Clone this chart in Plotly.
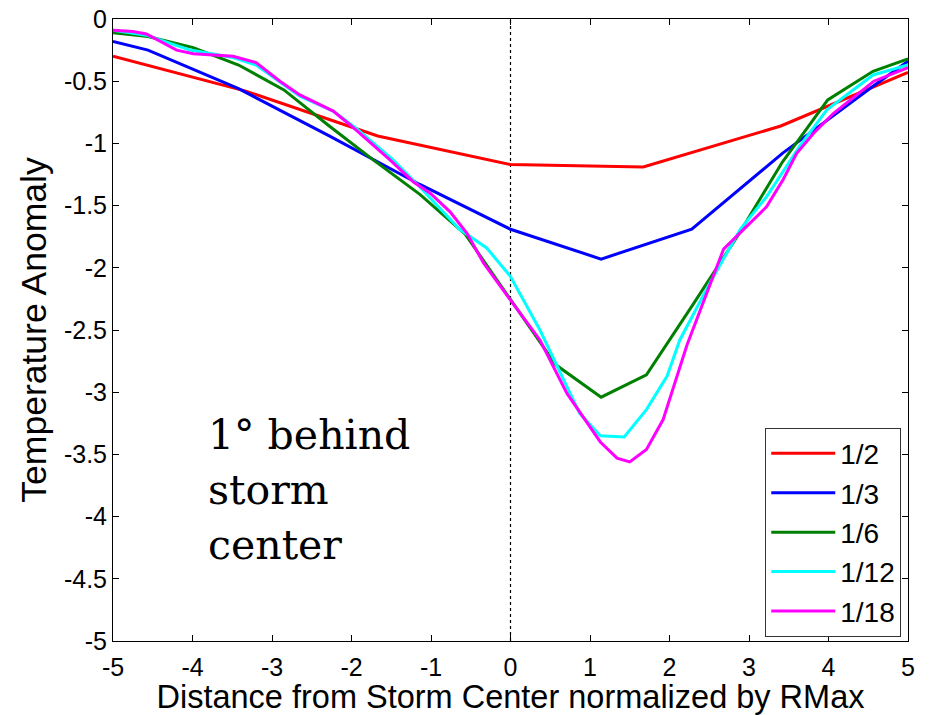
import plotly.graph_objects as go

# ---- data ----
x_half = [-5, -3.33, -1.67, 0, 1.67, 3.4, 5]
y_half = [-0.30, -0.58, -0.94, -1.17, -1.19, -0.86, -0.43]

x_third = [-5, -4.56, -3.42, -2.28, -1.14, 0, 1.14, 2.28, 3.42, 4.56, 5]
y_third = [-0.18, -0.25, -0.56, -0.94, -1.33, -1.69, -1.93, -1.69, -1.08, -0.54, -0.34]

x_sixth = [-5, -4.56, -3.99, -3.42, -2.85, -2.28, -1.71, -1.14, -0.57, 0, 0.57,
           1.14, 1.71, 2.28, 2.85, 3.42, 3.99, 4.56, 5]
y_sixth = [-0.11, -0.14, -0.23, -0.37, -0.57, -0.86, -1.14, -1.41, -1.73, -2.26, -2.78,
           -3.04, -2.86, -2.31, -1.75, -1.15, -0.65, -0.42, -0.32]

x_twelfth = [-5, -4.58, -4.03, -3.49, -3.2, -2.65, -2.23, -1.94, -1.48, -1.14, -0.64, -0.3,
             0, 0.37, 0.87, 1.13, 1.43, 1.71, 1.97, 2.13, 2.51, 2.89, 3.22, 3.64, 3.98, 4.56, 5]
y_twelfth = [-0.09, -0.13, -0.25, -0.31, -0.37, -0.62, -0.74, -0.88, -1.13, -1.35, -1.69, -1.84,
             -2.07, -2.5, -3.17, -3.35, -3.36, -3.14, -2.87, -2.58, -2.12, -1.69, -1.43, -1.02,
             -0.73, -0.45, -0.37]

x_eighteenth = [-5, -4.75, -4.58, -4.2, -3.99, -3.49, -3.2, -2.9, -2.65, -2.23, -2.02, -1.81,
                -1.52, -1.22, -1.01, -0.76, -0.55, -0.34, -0.13, 0, 0.37, 0.71, 1.13, 1.34,
                1.5, 1.71, 1.92, 2.22, 2.68, 2.93, 3.22, 3.43, 3.6, 3.81, 4.06, 4.57, 5]
y_eighteenth = [-0.09, -0.10, -0.12, -0.25, -0.28, -0.30, -0.35, -0.50, -0.61, -0.74, -0.85,
                -0.97, -1.13, -1.31, -1.40, -1.55, -1.72, -1.96, -2.14, -2.26, -2.58, -3.01,
                -3.40, -3.53, -3.56, -3.46, -3.22, -2.62, -1.85, -1.69, -1.51, -1.29, -1.08,
                -0.92, -0.76, -0.50, -0.39]

series_names = ["1/2", "1/3", "1/6", "1/12", "1/18"]
series_colors = ["#ff0000", "#0000ff", "#008000", "#00ffff", "#ff00ff"]

x_ticks = [-5, -4, -3, -2, -1, 0, 1, 2, 3, 4, 5]
x_tick_text = ["-5", "-4", "-3", "-2", "-1", "0", "1", "2", "3", "4", "5"]
y_ticks = [0, -0.5, -1, -1.5, -2, -2.5, -3, -3.5, -4, -4.5, -5]
y_tick_text = ["0", "-0.5", "-1", "-1.5", "-2", "-2.5", "-3", "-3.5", "-4", "-4.5", "-5"]

annotation_lines = ["1° behind", "storm", "center"]
annotation_y = [-3.34, -3.79, -4.23]

xs = [x_half, x_third, x_sixth, x_twelfth, x_eighteenth]
ys = [y_half, y_third, y_sixth, y_twelfth, y_eighteenth]

fig = go.Figure()
for name, color, xv, yv in zip(series_names, series_colors, xs, ys):
    fig.add_trace(go.Scatter(x=xv, y=yv, mode="lines", name=name, legendgroup=name,
                             line=dict(color=color, width=3)))

fig.add_shape(type="line", x0=0, x1=0, y0=-5, y1=0, xref="x", yref="y",
              line=dict(color="black", width=1.2, dash="dot"), layer="below")

for txt, yy in zip(annotation_lines, annotation_y):
    fig.add_annotation(x=-3.83, y=yy, xref="x", yref="y", text=txt, showarrow=False,
                       xanchor="left", yanchor="middle", align="left",
                       font=dict(family="DejaVu Serif", size=41, color="black"))

sans = "Liberation Sans, Arial, sans-serif"
axis_font = dict(family=sans, size=25, color="black")

fig.update_layout(
    width=935, height=715,
    margin=dict(l=113, r=27, t=19, b=74),
    paper_bgcolor="white", plot_bgcolor="white",
    showlegend=True,
    legend=dict(x=0.9915, y=0.007, xanchor="right", yanchor="bottom",
                bgcolor="white", bordercolor="#333333", borderwidth=1,
                font=dict(family=sans, size=28, color="black"),
                tracegroupgap=0, itemwidth=64),
    xaxis=dict(range=[-5, 5], tickvals=x_ticks, ticktext=x_tick_text, automargin=False,
               ticks="inside", ticklen=6, tickcolor="black", showgrid=False, zeroline=False,
               showline=True, linecolor="black", linewidth=1, mirror="ticks",
               tickfont=axis_font, ticklabelstandoff=4,
               title=dict(text="Distance from Storm Center normalized by RMax",
                          font=dict(family=sans, size=32.5, color="black"),
                          standoff=2)),
    yaxis=dict(range=[-5, 0], tickvals=y_ticks, ticktext=y_tick_text, automargin=False,
               ticks="inside", ticklen=6, tickcolor="black", showgrid=False, zeroline=False,
               showline=True, linecolor="black", linewidth=1, mirror="ticks",
               tickfont=axis_font,
               title=dict(text="Temperature Anomaly",
                          font=dict(family=sans, size=35.5, color="black"),
                          standoff=6)),
)

fig.write_html("out.html", config={"displayModeBar": False},
               post_script="document.body.style.margin='0';")
